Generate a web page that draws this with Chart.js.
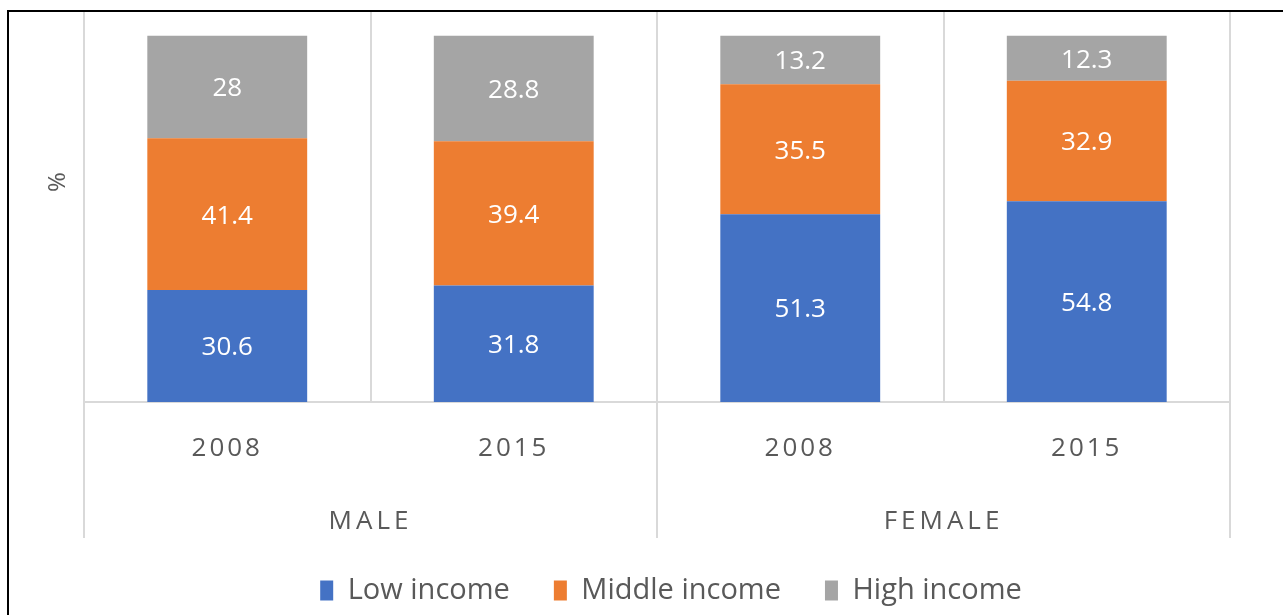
<!DOCTYPE html>
<html>
<head>
<meta charset="utf-8">
<script src="https://cdn.jsdelivr.net/npm/chart.js@4/dist/chart.umd.min.js"></script>
<style>
  html, body { margin: 0; padding: 0; background: #ffffff; }
  #wrap { position: relative; width: 1283px; height: 615px; }
  canvas { display: block; }
</style>
</head>
<body>
<div id="wrap"><canvas id="c" width="1283" height="615"></canvas></div>
<script>
// ---- data ----
const yearLabels = ['2008', '2015', '2008', '2015'];
const groupLabels = ['MALE', 'FEMALE'];
const seriesNames = ['Low income', 'Middle income', 'High income'];
const lowIncome = [30.6, 31.8, 51.3, 54.8];
const middleIncome = [41.4, 39.4, 35.5, 32.9];
const highIncome = [28, 28.8, 13.2, 12.3];
const yAxisLabel = '%';

const seriesColors = ['#4472C4', '#ED7D31', '#A5A5A5'];
const textColor = '#595959';
const gridColor = '#D9D9D9';
const FONT = "'Open Sans', 'Noto Sans', sans-serif";
Chart.defaults.font.family = FONT;

// letter spacing for axis labels
const spacingPlugin = {
  id: 'spacing',
  beforeDraw(chart) {
    const conf = { x: 3, x2: 4 };
    Object.keys(conf).forEach(id => {
      const s = chart.scales[id];
      if (s && !s._lsPatched) {
        const orig = s.drawLabels;
        s.drawLabels = function (a) {
          const c = this.ctx;
          c.save();
          c.letterSpacing = conf[id] + 'px';
          orig.call(this, a);
          c.restore();
        };
        s._lsPatched = true;
      }
    });
  }
};

// shift legend slightly right to match reference centering
const legendShiftPlugin = {
  id: 'legendShift',
  afterLayout(chart) {
    if (chart.legend) {
      chart.legend.left += 14;
      chart.legend.right += 14;
    }
  }
};

// frame, group separators, y label
const decorPlugin = {
  id: 'decor',
  beforeDraw(chart) {
    const ctx = chart.ctx;
    ctx.save();
    ctx.fillStyle = '#000';
    ctx.fillRect(8, 10, 1283 - 8, 2);
    ctx.fillRect(7, 10, 2, 615 - 10);
    ctx.restore();
  },
  afterDraw(chart) {
    const ctx = chart.ctx;
    const x = chart.scales.x;
    const area = chart.chartArea;
    const half = (x.getPixelForValue(1) - x.getPixelForValue(0)) / 2;
    const bounds = [x.getPixelForValue(0) - half, x.getPixelForValue(2) - half, x.getPixelForValue(3) + half];
    ctx.save();
    ctx.strokeStyle = gridColor;
    ctx.lineWidth = 2;
    bounds.forEach(b => {
      ctx.beginPath();
      ctx.moveTo(b, area.bottom);
      ctx.lineTo(b, 538);
      ctx.stroke();
    });
    // y axis label
    ctx.fillStyle = textColor;
    ctx.font = "24px " + FONT;
    ctx.textAlign = 'center';
    ctx.textBaseline = 'middle';
    ctx.translate(58, 182);
    ctx.rotate(-Math.PI / 2);
    ctx.fillText(yAxisLabel, 0, 0);
    ctx.restore();
  }
};

// data labels centered in segments
const labelPlugin = {
  id: 'segLabels',
  afterDatasetsDraw(chart) {
    const ctx = chart.ctx;
    ctx.save();
    ctx.fillStyle = '#FFFFFF';
    ctx.font = "26px " + FONT;
    ctx.textAlign = 'center';
    ctx.textBaseline = 'middle';
    chart.data.datasets.forEach((ds, di) => {
      const meta = chart.getDatasetMeta(di);
      meta.data.forEach((el, i) => {
        const p = el.getProps(['x', 'y', 'base'], true);
        ctx.fillText(String(ds.data[i]), p.x, (p.y + p.base) / 2 + 2);
      });
    });
    ctx.restore();
  }
};

const seriesData = [lowIncome, middleIncome, highIncome];

new Chart(document.getElementById('c'), {
  type: 'bar',
  data: {
    labels: yearLabels,
    datasets: seriesNames.map((n, i) => ({
      label: n,
      data: seriesData[i],
      backgroundColor: seriesColors[i],
      borderWidth: 0,
      categoryPercentage: 1,
      barPercentage: 0.558
    }))
  },
  options: {
    responsive: false,
    animation: false,
    layout: { padding: { left: 84, right: 53, top: 12, bottom: 0 } },
    scales: {
      x: {
        stacked: true,
        offset: true,
        grid: { display: true, drawOnChartArea: true, drawTicks: false, color: gridColor, lineWidth: 2, offset: true },
        border: { display: true, color: gridColor, width: 2 },
        ticks: { color: textColor, font: { size: 26 }, padding: 31, maxRotation: 0 },
        afterFit(s) { s.height = 80; }
      },
      x2: {
        type: 'category',
        labels: groupLabels,
        position: 'bottom',
        offset: true,
        grid: { display: false },
        border: { display: false },
        ticks: { color: textColor, font: { size: 26 }, padding: 16, maxRotation: 0 },
        afterFit(s) { s.height = 50; }
      },
      y: {
        stacked: true,
        display: false,
        min: 0,
        max: 106.5
      }
    },
    plugins: {
      legend: {
        position: 'bottom',
        labels: {
          color: textColor,
          font: { size: 29 },
          boxWidth: 13,
          boxHeight: 20,
          padding: 44
        }
      },
      tooltip: { enabled: false }
    }
  },
  plugins: [spacingPlugin, legendShiftPlugin, decorPlugin, labelPlugin]
});
</script>
</body>
</html>
